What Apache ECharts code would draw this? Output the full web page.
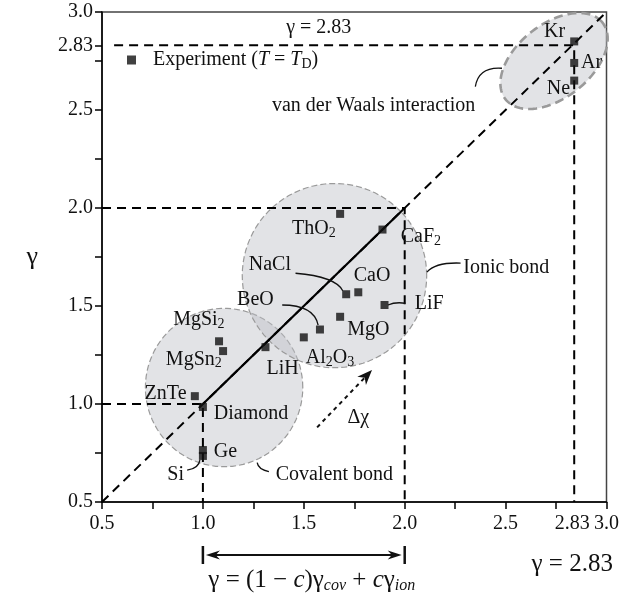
<!DOCTYPE html>
<html>
<head>
<meta charset="utf-8">
<script src="https://cdn.jsdelivr.net/npm/echarts@6/dist/echarts.min.js"></script>
<style>
  html, body { margin: 0; padding: 0; background: #fff; }
  #main { width: 622px; height: 597px; }
</style>
</head>
<body>
<div id="main"></div>
<script>
var FONT = 'Liberation Serif';

// experiment points
var names = ['Si', 'Ge', 'Diamond', 'ZnTe', 'MgSi2', 'MgSn2', 'LiH', 'Al2O3', 'BeO', 'MgO', 'NaCl', 'CaO', 'LiF', 'ThO2', 'CaF2', 'Ne', 'Ar', 'Kr'];
var xValues = [1.00, 1.00, 1.00, 0.96, 1.08, 1.10, 1.31, 1.50, 1.58, 1.68, 1.71, 1.77, 1.90, 1.68, 1.89, 2.84, 2.84, 2.84];
var yValues = [0.735, 0.765, 0.985, 1.04, 1.32, 1.27, 1.29, 1.34, 1.38, 1.445, 1.56, 1.57, 1.505, 1.97, 1.89, 2.65, 2.74, 2.85];

// axes
var tickValues = [0.5, 0.75, 1.0, 1.25, 1.5, 1.75, 2.0, 2.25, 2.5, 2.75, 3.0];
var yTickValues = [0.5, 0.75, 1.0, 1.25, 1.5, 1.75, 2.0, 2.25, 2.5, 2.75, 2.83, 3.0];
var labelValues = [0.5, 1.0, 1.5, 2.0, 2.5, 2.83, 3.0];

// guide lines
var diagonal = [[0.5, 0.5], [3.0, 3.0]];
var mixLine = [[1.0, 1.0], [2.0, 2.0]];
var covCorner = [[0.5, 1.0], [1.0, 1.0], [1.0, 0.5]];
var ionCorner = [[0.5, 2.0], [2.0, 2.0], [2.0, 0.5]];
var vdwCorner = [[0.56, 2.83], [2.84, 2.83], [2.84, 0.5]];

// regions: cx, cy, rx, ry, angle, thick border
var ellipses = [
  [1.105, 1.084, 0.39, 0.404, 0, 0],
  [1.652, 1.655, 0.457, 0.47, 0, 0],
  [2.74, 2.75, 0.31, 0.186, 40, 1]
];

// labels
var labelTexts = ['ThO{s|2}', 'CaF{s|2}', 'NaCl', 'CaO', 'LiF', 'MgO', 'BeO', 'Al{s|2}O{s|3}', 'LiH',
  'MgSi{s|2}', 'MgSn{s|2}', 'ZnTe', 'Diamond', 'Ge', 'Si', 'Kr', 'Ar', 'Ne',
  'Covalent bond', 'Ionic bond', 'van der Waals interaction', 'γ = 2.83', 'Δχ'];
var labelX = [1.55, 1.98, 1.332, 1.838, 2.05, 1.82, 1.26, 1.63, 1.395,
  0.98, 0.955, 0.815, 1.054, 1.054, 0.865, 2.743, 2.926, 2.762,
  1.361, 2.29, 1.342, 1.574, 1.77];
var labelY = [1.896, 1.853, 1.713, 1.653, 1.509, 1.378, 1.53, 1.235, 1.18,
  1.43, 1.228, 1.05, 0.949, 0.757, 0.64, 2.90, 2.743, 2.61,
  0.638, 1.694, 2.52, 2.918, 0.93];
var labelAlign = ['center', 'left', 'center', 'center', 'left', 'center', 'center', 'center', 'center',
  'center', 'center', 'center', 'left', 'left', 'center', 'center', 'center', 'center',
  'left', 'left', 'left', 'center', 'center'];

// leader curves: start, control, end
var leaders = [
  [1.459, 1.667, 1.657, 1.650, 1.693, 1.578],
  [1.393, 1.505, 1.550, 1.505, 1.571, 1.403],
  [1.917, 1.505, 1.954, 1.522, 2.003, 1.514],
  [2.110, 1.673, 2.153, 1.724, 2.277, 1.719],
  [2.350, 2.619, 2.366, 2.722, 2.482, 2.713],
  [0.922, 0.663, 0.980, 0.672, 0.985, 0.714],
  [1.269, 0.701, 1.274, 0.667, 1.327, 0.655]
];

var dchiArrow = [1.566, 0.881, 1.838, 1.173];
var bracketX = [1.0, 2.0];

var subRich = { fontSize: 14, fontFamily: FONT, padding: [9, 0, 0, 0] };

function arrowHead(tip, ang, L, W) {
  var b = [tip[0] - L * Math.cos(ang), tip[1] - L * Math.sin(ang)];
  var n = [tip[0] - 0.7 * L * Math.cos(ang), tip[1] - 0.7 * L * Math.sin(ang)];
  return [tip, [b[0] + W * Math.sin(ang), b[1] - W * Math.cos(ang)], n, [b[0] - W * Math.sin(ang), b[1] + W * Math.cos(ang)]];
}

function dashed(name, data, width, dash) {
  return {
    name: name, type: 'line', data: data, symbol: 'none', silent: true, z: 3,
    lineStyle: { color: '#000', width: width, type: dash }
  };
}

var chart = echarts.init(document.getElementById('main'));
chart.setOption({
  animation: false,
  textStyle: { fontFamily: FONT, color: '#111' },
  grid: { left: 102, right: 15, top: 12, bottom: 95, show: true, borderColor: '#444', borderWidth: 1.5 },
  legend: {
    data: [{ name: 'Experiment', icon: 'rect' }],
    left: 127, top: 50, padding: 0,
    itemWidth: 9, itemHeight: 9,
    formatter: function () { return '{gap|}Experiment ({it|T} = {it|T}{s|D})'; },
    textStyle: {
      fontFamily: FONT, fontSize: 20, color: '#111',
      rich: {
        gap: { width: 12 },
        it: { fontFamily: FONT, fontSize: 20, fontStyle: 'italic', color: '#111' },
        s: { fontFamily: FONT, fontSize: 14, color: '#111', padding: [9, 0, 0, 0] }
      }
    }
  },
  xAxis: {
    type: 'value', min: 0.5, max: 3.0, interval: 0.25,
    splitLine: { show: false },
    axisLine: { lineStyle: { color: '#000', width: 1.5 } },
    axisTick: { length: 7, customValues: tickValues, lineStyle: { color: '#000', width: 1.5 } },
    axisLabel: {
      customValues: labelValues, margin: 12, fontSize: 20, fontFamily: FONT, color: '#111',
      showMinLabel: true, showMaxLabel: true,
      formatter: function (v) { return Math.abs(v - 2.83) < 1e-6 ? '2.83' : v.toFixed(1); }
    }
  },
  yAxis: {
    type: 'value', min: 0.5, max: 3.0, interval: 0.25,
    name: 'γ', nameLocation: 'middle', nameRotate: 0, nameGap: 64,
    nameTextStyle: { fontSize: 26, fontFamily: FONT, color: '#111' },
    splitLine: { show: false },
    axisLine: { lineStyle: { color: '#000', width: 1.5 } },
    axisTick: { length: 7, customValues: yTickValues, lineStyle: { color: '#000', width: 1.5 } },
    axisLabel: {
      customValues: labelValues, margin: 9, fontSize: 20, fontFamily: FONT, color: '#111',
      showMinLabel: true, showMaxLabel: true,
      formatter: function (v) { return Math.abs(v - 2.83) < 1e-6 ? '2.83' : v.toFixed(1); }
    }
  },
  series: [
    {
      name: 'regions', type: 'custom', silent: true, z: 1,
      data: ellipses.map(function (e) { return [e[0], e[1]]; }),
      renderItem: function (params, api) {
        var e = ellipses[params.dataIndex];
        var th = e[4] * Math.PI / 180, pts = [];
        for (var k = 0; k < 90; k++) {
          var t = k / 90 * 2 * Math.PI;
          var ex = e[2] * Math.cos(t), ey = e[3] * Math.sin(t);
          pts.push(api.coord([e[0] + ex * Math.cos(th) - ey * Math.sin(th), e[1] + ex * Math.sin(th) + ey * Math.cos(th)]));
        }
        return {
          type: 'polygon', shape: { points: pts },
          style: {
            fill: 'rgba(190,193,200,0.45)',
            stroke: '#9a9a9a',
            lineWidth: e[5] ? 2.6 : 1.2,
            lineDash: e[5] ? [9, 5] : [6, 3]
          }
        };
      }
    },
    dashed('diagonal', diagonal, 2, [9, 6]),
    dashed('covCorner', covCorner, 2, [9, 6]),
    dashed('ionCorner', ionCorner, 2, [9, 6]),
    dashed('vdwCorner', vdwCorner, 2, [9, 6]),
    dashed('mix', mixLine, 2.2, 'solid'),
    {
      name: 'Experiment', type: 'scatter', symbol: 'rect', symbolSize: 8, z: 5,
      itemStyle: { color: '#111' },
      data: names.map(function (n, i) { return { name: n, value: [xValues[i], yValues[i]] }; })
    },
    {
      name: 'leaders', type: 'custom', silent: true, z: 4,
      data: leaders.map(function (c) { return [c[0], c[1]]; }),
      renderItem: function (params, api) {
        var c = leaders[params.dataIndex];
        var a = api.coord([c[0], c[1]]), b = api.coord([c[2], c[3]]), d = api.coord([c[4], c[5]]);
        return {
          type: 'bezierCurve',
          shape: { x1: a[0], y1: a[1], cpx1: b[0], cpy1: b[1], x2: d[0], y2: d[1] },
          style: { stroke: '#111', lineWidth: 1.3, fill: null }
        };
      }
    },
    {
      name: 'labels', type: 'custom', silent: true, z: 6,
      data: labelTexts.map(function (t, i) { return [labelX[i], labelY[i]]; }),
      renderItem: function (params, api) {
        var i = params.dataIndex;
        var p = api.coord([labelX[i], labelY[i]]);
        return {
          type: 'text', x: p[0], y: p[1],
          style: {
            text: labelTexts[i], fill: '#111', fontSize: 20, fontFamily: FONT,
            align: labelAlign[i], verticalAlign: 'middle',
            rich: { s: subRich }
          }
        };
      }
    },
    {
      name: 'dchi', type: 'custom', silent: true, z: 4,
      data: [[dchiArrow[0], dchiArrow[1]]],
      renderItem: function (params, api) {
        var a = api.coord([dchiArrow[0], dchiArrow[1]]);
        var b = api.coord([dchiArrow[2], dchiArrow[3]]);
        var ang = Math.atan2(b[1] - a[1], b[0] - a[0]);
        var e = [b[0] - 10 * Math.cos(ang), b[1] - 10 * Math.sin(ang)];
        return {
          type: 'group', children: [
            { type: 'line', shape: { x1: a[0], y1: a[1], x2: e[0], y2: e[1] }, style: { stroke: '#111', lineWidth: 2, lineDash: [4, 4] } },
            { type: 'polygon', shape: { points: arrowHead(b, ang, 15, 6) }, style: { fill: '#111' } }
          ]
        };
      }
    },
    {
      name: 'bracket', type: 'custom', silent: true, clip: false, z: 4,
      data: [[bracketX[0], 0.5]],
      renderItem: function (params, api) {
        var l = api.coord([bracketX[0], 0.5]), r = api.coord([bracketX[1], 0.5]);
        var g = api.coord([2.83, 0.5]);
        var y = l[1] + 53;
        return {
          type: 'group', children: [
            { type: 'line', shape: { x1: l[0], y1: y - 9, x2: l[0], y2: y + 9 }, style: { stroke: '#111', lineWidth: 2.5 } },
            { type: 'line', shape: { x1: r[0], y1: y - 9, x2: r[0], y2: y + 9 }, style: { stroke: '#111', lineWidth: 2.5 } },
            { type: 'line', shape: { x1: l[0] + 12, y1: y, x2: r[0] - 12, y2: y }, style: { stroke: '#111', lineWidth: 2 } },
            { type: 'polygon', shape: { points: arrowHead([l[0] + 3, y], Math.PI, 14, 4.5) }, style: { fill: '#111' } },
            { type: 'polygon', shape: { points: arrowHead([r[0] - 3, y], 0, 14, 4.5) }, style: { fill: '#111' } },
            {
              type: 'text', x: (l[0] + r[0]) / 2 + 8, y: y + 25,
              style: {
                text: 'γ = (1 − {i|c})γ{si|cov} + {i|c}γ{si|ion}', fill: '#111', fontSize: 25, fontFamily: FONT,
                align: 'center', verticalAlign: 'middle',
                rich: {
                  i: { fontSize: 25, fontFamily: FONT, fontStyle: 'italic' },
                  si: { fontSize: 16, fontFamily: FONT, fontStyle: 'italic', padding: [11, 0, 0, 0] }
                }
              }
            },
            {
              type: 'text', x: g[0], y: y + 9,
              style: { text: 'γ = 2.83', fill: '#111', fontSize: 25, fontFamily: FONT, align: 'center', verticalAlign: 'middle' }
            }
          ]
        };
      }
    }
  ]
});
</script>
</body>
</html>
